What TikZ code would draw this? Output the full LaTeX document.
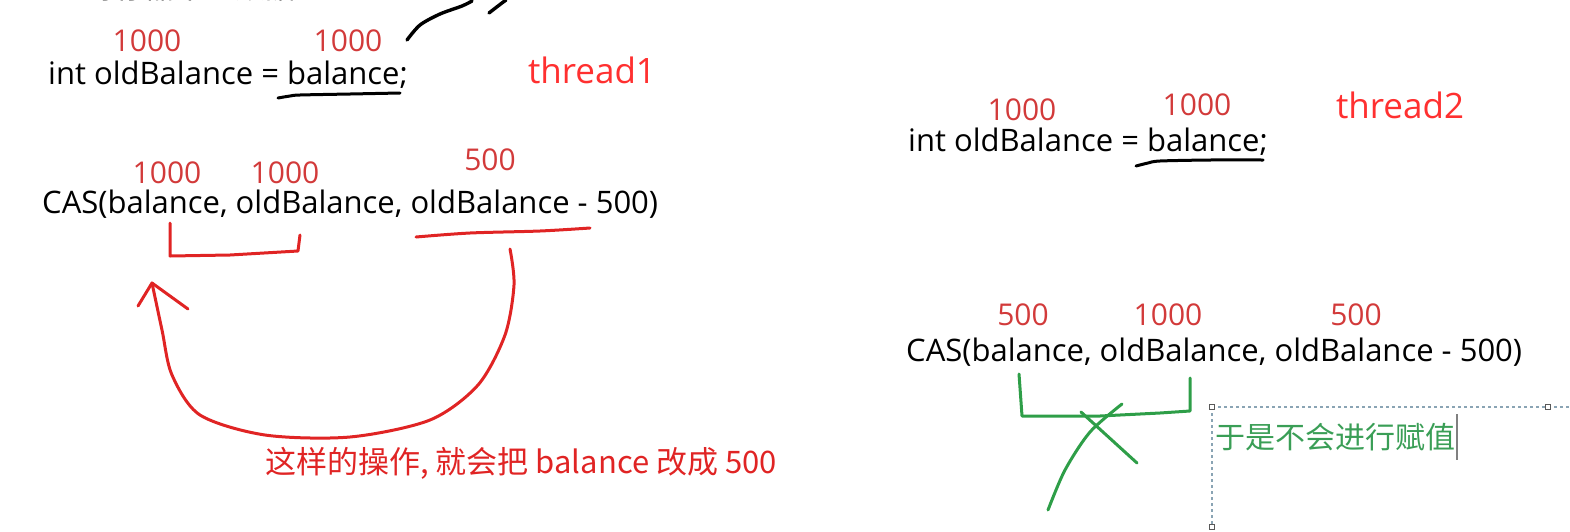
\documentclass[tikz,border=0pt]{standalone}
\usepackage{fontspec}
\setmainfont{Open Sans}
\newfontfamily\cjk{Noto Sans CJK SC}
\definecolor{numred}{HTML}{D23A3A}
\definecolor{thred}{HTML}{FF3030}
\definecolor{penred}{HTML}{E02424}
\definecolor{pengreen}{HTML}{2E9E48}
\definecolor{txtgreen}{HTML}{3A9E56}
\definecolor{boxgray}{HTML}{8AA4B4}
\tikzset{
  code/.style={inner sep=0pt, anchor=west, font=\fontsize{31}{33}\selectfont, text=black},
  num/.style={inner sep=0pt, font=\fontsize{30}{32}\selectfont, text=numred},
  thr/.style={inner sep=0pt, font=\fontsize{35}{37}\selectfont, text=thred},
  pen/.style={line width=3pt, line cap=round, line join=round},
  handle/.style={draw=gray!70!black, fill=white, line width=0.8pt, minimum size=5pt, inner sep=0pt}
}
\begin{document}
\begin{tikzpicture}[x=1pt,y=-1pt]
\useasboundingbox (0,0) rectangle (1570,531);
\clip (0,0) rectangle (1570,531);
% cut-off caption at top
\node[inner sep=0pt, anchor=west, font=\cjk\fontsize{30}{32}\selectfont] (cap) at (85,-13) {寄存器中的数据};
\draw[pen, black, line width=3.4pt] plot[smooth] coordinates {(407,40) (420,25) (440,14) (462,6) (472,1)};
\draw[pen, black, line width=3.4pt] plot[smooth] coordinates {(489,13) (498,6) (506,0)};
% thread1
\node[code] (i1) at (48,75) {int oldBalance = balance;};
\node[num] (n11) at (147,41) {1000};
\node[num] (n12) at (348,41) {1000};
\node[thr] (t1) at (592,70) {thread1};
\draw[pen, black] plot[smooth] coordinates {(278,98) (290,96) (300,95) (350,94) (400,93)};
\node[code] (c1) at (42,204) {CAS(balance, oldBalance, oldBalance - 500)};
\node[num] (n13) at (167,173) {1000};
\node[num] (n14) at (285,173) {1000};
\node[num] (n15) at (490,160) {500};
\draw[pen, penred] (170,223) -- (170,256) -- (230,255) -- (298,251) -- (300,235);
\draw[pen, penred] plot[smooth] coordinates {(416,237) (470,233) (540,231) (590,228)};
\draw[pen, penred] plot[smooth] coordinates {(510,249) (514,285) (505,335) (478,385) (430,420) (350,437) (265,435) (200,415) (172,375) (162,330) (152,283)};
\draw[pen, penred] (138,306) -- (152,283) -- (188,309);
\node[inner sep=0pt, font=\cjk\fontsize{31}{33}\selectfont, text=penred, anchor=west] (note1) at (265,463) {这样的操作, 就会把 balance 改成 500};
% thread2
\node[code] (i2) at (908,142) {int oldBalance = balance;};
\node[num] (n21) at (1022,110) {1000};
\node[num] (n22) at (1197,105) {1000};
\node[thr] (t2) at (1400,105) {thread2};
\draw[pen, black] plot[smooth] coordinates {(1136,166) (1148,163) (1160,161) (1210,160) (1263,160)};
\node[code] (c2) at (906,352) {CAS(balance, oldBalance, oldBalance - 500)};
\node[num] (n23) at (1023,315) {500};
\node[num] (n24) at (1168,315) {1000};
\node[num] (n25) at (1356,315) {500};
\draw[pen, pengreen] (1019,374) -- (1022,416) -- (1100,416) -- (1160,413) -- (1190,411) -- (1190,378);
\draw[pen, pengreen] plot[smooth] coordinates {(1048,510) (1065,470) (1090,432) (1122,404)};
\draw[pen, pengreen] (1081,412) -- (1137,463);
% text box
\draw[boxgray, dashed, dash pattern=on 3pt off 3pt, line width=1.2pt] (1212,407) -- (1570,407);
\draw[boxgray, dashed, dash pattern=on 3pt off 3pt, line width=1.2pt] (1212,407) -- (1212,531);
\node[handle] (h1) at (1212,407) {};
\node[handle] (h2) at (1548,407) {};
\node[handle] (h3) at (1212,527) {};
\node[inner sep=0pt, font=\cjk\fontsize{30}{32}\selectfont, text=txtgreen, anchor=west] (note2) at (1215,437) {于是不会进行赋值};
\draw[gray, line width=1.5pt] (1457,414) -- (1457,460);
\end{tikzpicture}
\end{document}
